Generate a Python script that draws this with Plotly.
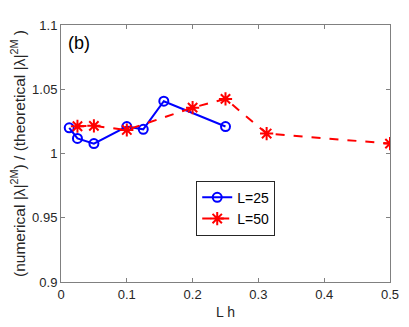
import plotly.graph_objects as go

x25 = [0.0125, 0.025, 0.05, 0.1, 0.125, 0.15625, 0.25]
y25 = [1.020, 1.0117, 1.0077, 1.021, 1.0188, 1.0407, 1.021]
x50 = [0.025, 0.05, 0.1, 0.2, 0.25, 0.3125, 0.5]
y50 = [1.0212, 1.0215, 1.0183, 1.0357, 1.0425, 1.0155, 1.0077]
xticks = [0, 0.1, 0.2, 0.3, 0.4, 0.5]
xticklabels = ["0", "0.1", "0.2", "0.3", "0.4", "0.5"]
yticks = [0.9, 0.95, 1.0, 1.05, 1.1]
yticklabels = ["0.9", "0.95", "1", "1.05", "1.1"]

FONT = "Liberation Sans, Arial, sans-serif"

fig = go.Figure()
fig.add_trace(go.Scatter(
    x=x25, y=y25, name="L=25", mode="lines+markers",
    line=dict(color="#0000ff", width=2),
    marker=dict(symbol="circle-open", size=9, color="#0000ff", line=dict(width=2, color="#0000ff")),
))
fig.add_trace(go.Scatter(
    x=x50, y=y50, name="L=50", mode="lines+markers",
    line=dict(color="#ff0000", width=2, dash="dash"),
    marker=dict(symbol="asterisk-open", size=11, color="#ff0000", line=dict(width=2, color="#ff0000")),
))

axis_common = dict(
    showgrid=False, zeroline=False, showline=True, linecolor="#808080", linewidth=1,
    mirror="ticks", ticks="inside", ticklen=4, tickcolor="#808080",
    tickfont=dict(family=FONT, size=13, color="#262626"),
)
fig.update_xaxes(range=[0, 0.5], tickvals=xticks, ticktext=xticklabels,
                 title=dict(text="L h", font=dict(family=FONT, size=14, color="#262626"), standoff=6),
                 **axis_common)
fig.update_yaxes(range=[0.9, 1.1], tickvals=yticks, ticktext=yticklabels,
                 title=dict(text="(numerical |λ|<sup>2M</sup>) / (theoretical |λ|<sup>2M</sup> )",
                            font=dict(family=FONT, size=15.5, color="#262626"), standoff=3),
                 **axis_common)

fig.add_annotation(x=0.015, y=0.975, xref="paper", yref="paper", text="(b)", showarrow=False,
                   xanchor="left", yanchor="top",
                   font=dict(family=FONT, size=18, color="#000000"))

fig.update_layout(
    width=401, height=319,
    margin=dict(l=51, r=10, t=10, b=44),
    paper_bgcolor="white", plot_bgcolor="white",
    showlegend=True,
    legend=dict(x=0.411, y=0.394, xanchor="left", yanchor="top",
                bordercolor="#262626", borderwidth=1, bgcolor="white",
                font=dict(family=FONT, size=14, color="#000000"),
                itemwidth=30, tracegroupgap=0),
)

fig.write_html("out.html")
